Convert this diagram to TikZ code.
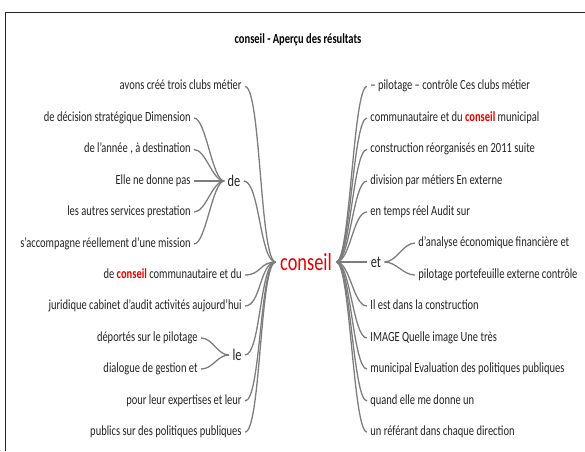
\documentclass[tikz,border=0pt]{standalone}
\usepackage{fontspec}
\setmainfont[FakeStretch=0.75]{Carlito}
\usepackage{xcolor}
\usepackage{tikz}
\definecolor{linegray}{RGB}{125,125,125}
\definecolor{textgray}{RGB}{35,35,35}
\definecolor{keyred}{RGB}{232,0,0}
\newcommand{\kw}{\textcolor{keyred}{\textbf{conseil}}}

\begin{document}
\begin{tikzpicture}[x=1pt, y=-1pt, thick,
    leaf/.style={font=\fontsize{14}{16}\selectfont, text=textgray, inner sep=3pt, text height=10pt, text depth=3.3pt},
    leftleaf/.style={leaf, anchor=east},
    rightleaf/.style={leaf, anchor=west},
    midword/.style={font=\fontsize{16.5}{18}\selectfont, text=textgray, inner sep=3pt},
    branch/.style={draw=linegray, line width=1.3pt}]
  \useasboundingbox (0,0) rectangle (585,451);
  \draw[black!85, line width=1.4pt] (5.5,451) -- (5.5,12.5) -- (585,12.5);

  \node[font=\bfseries\fontsize{14}{16}\selectfont] (title) at (298,40) {conseil - Aperçu des résultats};
  \node[text=keyred, font=\fontsize{24.5}{26}\selectfont, inner sep=4pt] (conseil) at (306,262) {conseil};

  % left side
  \node[leftleaf] (avons) at (245,86.5) {avons créé trois clubs métier};
  \node[midword] (de) at (234,181) {de};
  \node[leftleaf] (decision) at (194,118) {de décision stratégique Dimension};
  \node[leftleaf] (annee) at (194,149.5) {de l'année , à destination};
  \node[leftleaf] (elle) at (194,181) {Elle ne donne pas};
  \node[leftleaf] (autres) at (194,212) {les autres services prestation};
  \node[leftleaf] (accompagne) at (194,244) {s'accompagne réellement d'une mission};
  \node[leftleaf] (deconseil) at (245,275) {de \kw{} communautaire et du};
  \node[leftleaf] (juridique) at (245,306) {juridique cabinet d'audit activités aujourd'hui};
  \node[midword] (le) at (237,355) {le};
  \node[leftleaf] (deportes) at (201,338) {déportés sur le pilotage};
  \node[leftleaf] (dialogue) at (201,369) {dialogue de gestion et};
  \node[leftleaf] (pour) at (245,401) {pour leur expertises et leur};
  \node[leftleaf] (publics) at (245,432) {publics sur des politiques publiques};

  % right side
  \node[rightleaf] (pilotage) at (367,86.5) {-- pilotage -- contrôle Ces clubs métier};
  \node[rightleaf] (communautaire) at (367,118) {communautaire et du \kw{} municipal};
  \node[rightleaf] (construction) at (367,149.5) {construction réorganisés en 2011 suite};
  \node[rightleaf] (division) at (367,181) {division par métiers En externe};
  \node[rightleaf] (temps) at (367,212) {en temps réel Audit sur};
  \node[midword] (et) at (376,262) {et};
  \node[rightleaf] (analyse) at (415,243) {d'analyse économique financière et};
  \node[rightleaf] (portefeuille) at (415,275) {pilotage portefeuille externe contrôle};
  \node[rightleaf] (ilest) at (367,306) {Il est dans la construction};
  \node[rightleaf] (image) at (367,338) {IMAGE Quelle image Une très};
  \node[rightleaf] (municipal) at (367,369) {municipal Evaluation des politiques publiques};
  \node[rightleaf] (quand) at (367,401) {quand elle me donne un};
  \node[rightleaf] (referant) at (367,432) {un référant dans chaque direction};

  % branches
  \foreach \n in {avons, de, deconseil, juridique, le, pour, publics}
    \draw[branch] (conseil.west) .. controls +(-16,0) and +(16,0) .. (\n.east);
  \foreach \n in {decision, annee, elle, autres, accompagne}
    \draw[branch] (de.west) .. controls +(-12,0) and +(12,0) .. (\n.east);
  \foreach \n in {deportes, dialogue}
    \draw[branch] (le.west) .. controls +(-12,0) and +(12,0) .. (\n.east);
  \foreach \n in {pilotage, communautaire, construction, division, temps, et, ilest, image, municipal, quand, referant}
    \draw[branch] (conseil.east) .. controls +(14,0) and +(-14,0) .. (\n.west);
  \foreach \n in {analyse, portefeuille}
    \draw[branch] (et.east) .. controls +(12,0) and +(-12,0) .. (\n.west);
\end{tikzpicture}
\end{document}
